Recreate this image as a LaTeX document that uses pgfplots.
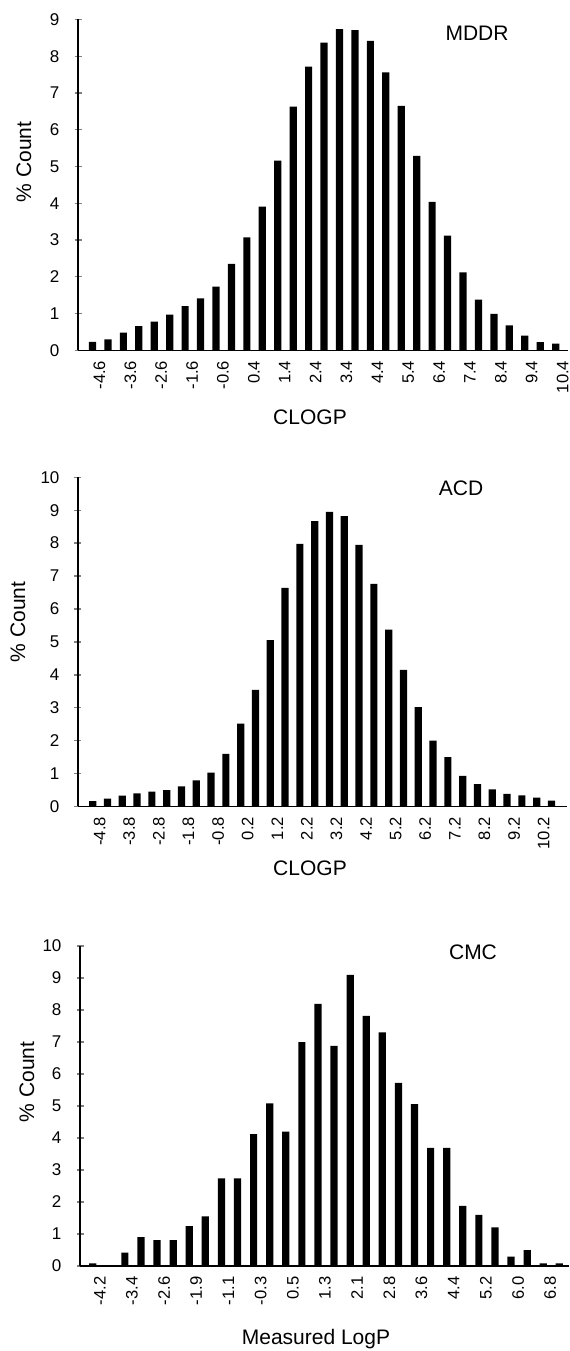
\documentclass[border=0pt]{standalone}
\usepackage{fontspec}
\setmainfont{Liberation Sans}
\usepackage{pgfplots}
\usepackage{pgfplotstable}
\pgfplotsset{compat=1.18}

\pgfplotstableread{
i v
0 0.23
1 0.30
2 0.48
3 0.66
4 0.78
5 0.97
6 1.20
7 1.41
8 1.73
9 2.35
10 3.07
11 3.91
12 5.16
13 6.63
14 7.72
15 8.37
16 8.74
17 8.71
18 8.42
19 7.56
20 6.65
21 5.29
22 4.04
23 3.12
24 2.12
25 1.38
26 0.99
27 0.68
28 0.40
29 0.22
30 0.18
}\mddr

\pgfplotstableread{
i v
0 0.16
1 0.24
2 0.33
3 0.40
4 0.45
5 0.50
6 0.61
7 0.79
8 1.03
9 1.60
10 2.52
11 3.54
12 5.05
13 6.64
14 7.98
15 8.67
16 8.95
17 8.82
18 7.95
19 6.76
20 5.37
21 4.15
22 3.02
23 2.00
24 1.50
25 0.93
26 0.68
27 0.52
28 0.38
29 0.34
30 0.27
31 0.18
}\acd

\pgfplotstableread{
i v
0 0.08
1 0.02
2 0.42
3 0.90
4 0.81
5 0.81
6 1.25
7 1.55
8 2.74
9 2.74
10 4.12
11 5.08
12 4.20
13 7.00
14 8.19
15 6.88
16 9.10
17 7.82
18 7.30
19 5.72
20 5.06
21 3.69
22 3.69
23 1.88
24 1.60
25 1.21
26 0.29
27 0.50
28 0.08
29 0.08
}\cmc

\pgfplotsset{
  hist/.style={
    scale only axis,
    anchor=south west,
    axis lines*=left,
    axis line style={line width=0.7pt},
    ymin=0,
    ybar, bar width=3.6pt,
    tick align=center,
    major tick length=3.5pt,
    ytick distance=1,
    xtick style={draw=none},
    ytick style={line width=0.7pt},
    xticklabel style={rotate=90, anchor=east, font=\fontsize{8.3}{10}\selectfont, yshift=-3.5pt},
    yticklabel style={font=\fontsize{8.5}{10}\selectfont, xshift=-4pt},
    /pgf/number format/assume math mode=true,
    clip=false,
  }
}

\begin{document}
\begin{tikzpicture}
\path[use as bounding box] (0,0) rectangle (284.5pt,675.5pt);

% Panel 1: MDDR
\begin{axis}[hist,
  at={(39pt,500.35pt)}, width=245pt, height=165.4pt,
  xmin=-0.94, xmax=30.8, ymax=9,
  xtick={0,2,...,30},
  xticklabels={-4.6,-3.6,-2.6,-1.6,-0.6,0.4,1.4,2.4,3.4,4.4,5.4,6.4,7.4,8.4,9.4,10.4},
]
\addplot[fill=black, draw=none] table[x=i, y=v] {\mddr};
\end{axis}

% Panel 2: ACD
\begin{axis}[hist,
  at={(39pt,272.25pt)}, width=244.5pt, height=164.6pt,
  xmin=-0.99, xmax=32.05, ymax=10,
  xtick={0,2,...,30},
  xticklabels={-4.8,-3.8,-2.8,-1.8,-0.8,0.2,1.2,2.2,3.2,4.2,5.2,6.2,7.2,8.2,9.2,10.2},
]
\addplot[fill=black, draw=none] table[x=i, y=v] {\acd};
\end{axis}

% Panel 3: CMC
\begin{axis}[hist,
  at={(40pt,42.5pt)}, width=244.5pt, height=160pt,
  xmin=-0.79, xmax=29.6, ymax=10,
  xtick={0,2,...,28},
  xticklabels={-4.2,-3.4,-2.6,-1.9,-1.1,-0.3,0.5,1.3,2.1,2.8,3.6,4.4,5.2,6.0,6.8},
]
\addplot[fill=black, draw=none] table[x=i, y=v] {\cmc};
\end{axis}

\begin{scope}[every node/.style={font=\fontsize{10.5}{12}\selectfont, inner sep=0pt}]
\node at (238.5pt,659pt) {MDDR};
\node at (230.5pt,431.5pt) {ACD};
\node at (236.5pt,199.5pt) {CMC};
\node[rotate=90] at (12pt,594.5pt) {\% Count};
\node[rotate=90] at (9pt,364.5pt) {\% Count};
\node[rotate=90] at (13.5pt,134.5pt) {\% Count};
\node at (155pt,467pt) {CLOGP};
\node at (155pt,241.5pt) {CLOGP};
\node at (158pt,6pt) {Measured LogP};
\end{scope}
\end{tikzpicture}
\end{document}
